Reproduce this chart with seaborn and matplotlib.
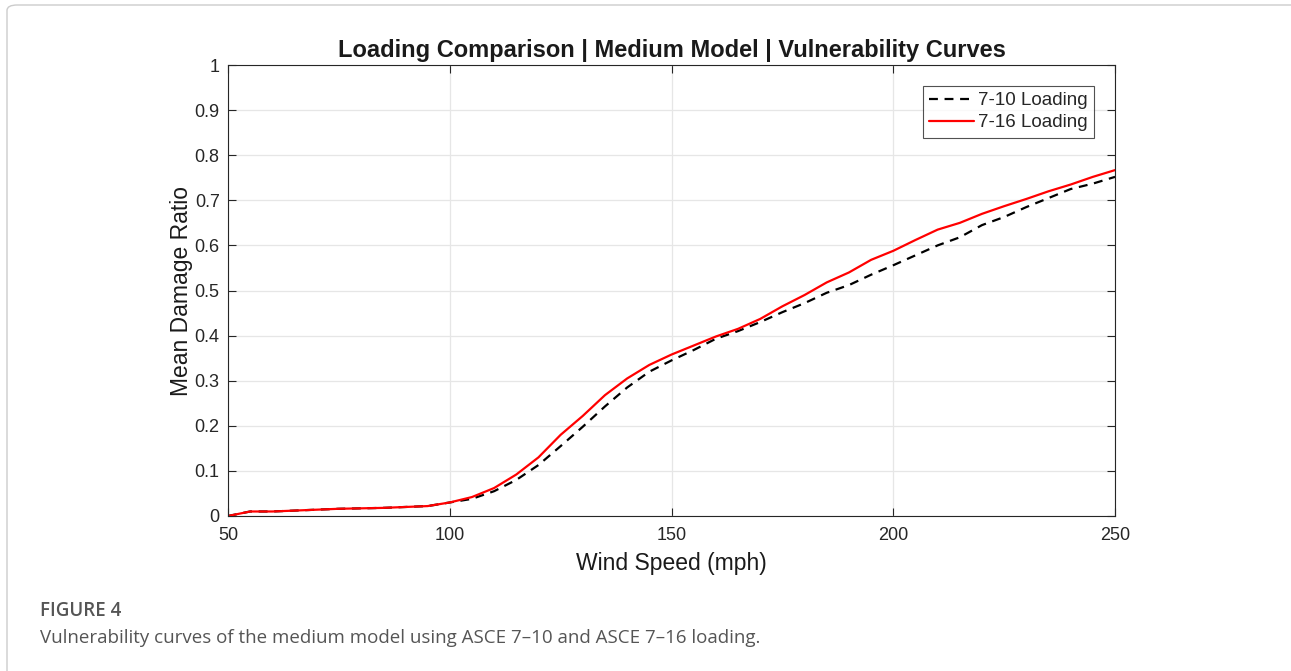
import numpy as np
import pandas as pd
import matplotlib
matplotlib.use("Agg")
import matplotlib.pyplot as plt
import seaborn as sns
from matplotlib.patches import FancyBboxPatch
from matplotlib.lines import Line2D

wind_speed = [50, 55, 60, 65, 70, 75, 80, 85, 90, 95, 100, 105, 110, 115, 120, 125, 130,
              135, 140, 145, 150, 155, 160, 165, 170, 175, 180, 185, 190, 195, 200, 205,
              210, 215, 220, 225, 230, 235, 240, 245, 250]
loading_7_10 = [0.0, 0.010, 0.010, 0.012, 0.014, 0.016, 0.017, 0.018, 0.020, 0.022, 0.030,
                0.038, 0.055, 0.080, 0.113, 0.155, 0.198, 0.243, 0.285, 0.320, 0.345, 0.368,
                0.393, 0.410, 0.430, 0.452, 0.472, 0.495, 0.512, 0.535, 0.556, 0.578, 0.600,
                0.618, 0.645, 0.663, 0.685, 0.705, 0.725, 0.737, 0.752]
loading_7_16 = [0.0, 0.010, 0.010, 0.012, 0.014, 0.016, 0.017, 0.018, 0.020, 0.022, 0.030,
                0.042, 0.062, 0.092, 0.130, 0.180, 0.222, 0.268, 0.305, 0.335, 0.358, 0.378,
                0.398, 0.415, 0.437, 0.465, 0.490, 0.518, 0.540, 0.568, 0.588, 0.612, 0.635,
                0.650, 0.670, 0.687, 0.703, 0.720, 0.735, 0.752, 0.767]
series_names = ["7-10 Loading", "7-16 Loading"]
x_ticks = [50, 100, 150, 200, 250]
y_ticks = [0, 0.1, 0.2, 0.3, 0.4, 0.5, 0.6, 0.7, 0.8, 0.9, 1]
y_tick_labels = ["0", "0.1", "0.2", "0.3", "0.4", "0.5", "0.6", "0.7", "0.8", "0.9", "1"]

df = pd.DataFrame({
    "Wind Speed": wind_speed * 2,
    "MDR": loading_7_10 + loading_7_16,
    "Series": [series_names[0]] * len(wind_speed) + [series_names[1]] * len(wind_speed),
})

sns.set_style("white")
plt.rcParams["font.family"] = ["Liberation Sans", "DejaVu Sans"]

fig = plt.figure(figsize=(12.91, 6.71), dpi=100)
ax = fig.add_axes([0.1766, 0.2310, 0.6871, 0.6721])

sns.lineplot(data=df, x="Wind Speed", y="MDR", hue="Series", style="Series",
             palette={series_names[0]: "black", series_names[1]: "#ff0000"},
             dashes={series_names[0]: (4, 3), series_names[1]: ""},
             linewidth=1.6, ax=ax, legend=False)

ax.set_xlim(50, 250)
ax.set_ylim(0, 1)
ax.set_xticks(x_ticks)
ax.set_yticks(y_ticks)
ax.set_yticklabels(y_tick_labels)
ax.grid(True, color="#e6e6e6", linewidth=0.9)
ax.set_axisbelow(True)
for s in ax.spines.values():
    s.set_color("#262626")
    s.set_linewidth(0.8)
ax.tick_params(direction="in", length=6, width=0.8, colors="#262626",
               labelsize=13, top=True, right=True, bottom=True, left=True,
               labelcolor="#262626")
ax.tick_params(axis="x", pad=8)
ax.tick_params(axis="y", pad=6)

ax.set_xlabel("Wind Speed (mph)", fontsize=16.5, color="#1a1a1a", labelpad=6)
ax.set_ylabel("Mean Damage Ratio", fontsize=16.5, color="#1a1a1a", labelpad=1)
ax.set_title("Loading Comparison | Medium Model | Vulnerability Curves",
             fontsize=17, fontweight="bold", color="#1a1a1a", pad=6)

handles = [Line2D([0], [0], color="black", linestyle=(0, (4, 3)), linewidth=1.6),
           Line2D([0], [0], color="#ff0000", linewidth=1.6)]
leg = ax.legend(handles, series_names, loc="upper right", bbox_to_anchor=(0.987, 0.975),
                fontsize=13.5, frameon=True, fancybox=False, handlelength=2.4,
                handletextpad=0.2, borderpad=0.35, labelspacing=0.25)
leg.get_frame().set_edgecolor("#262626")
leg.get_frame().set_linewidth(0.8)

# outer border of the figure panel
border = FancyBboxPatch((7 / 1291, -0.05), 1.1, 1.05 - 5 / 671,
                        boxstyle="round,pad=0,rounding_size=0.008",
                        transform=fig.transFigure, fill=False,
                        edgecolor="#cccccc", linewidth=1.0)
fig.patches.append(border)

fig.text(40 / 1291, 1 - 611 / 671, "FIGURE 4", fontsize=13.5, color="#555555",
         fontweight="semibold", family=["Open Sans", "DejaVu Sans"],
         va="center", ha="left")
fig.text(40 / 1291, 1 - 638 / 671,
         "Vulnerability curves of the medium model using ASCE 7\u201310 and ASCE 7\u201316 loading.",
         fontsize=13.5, color="#555555", family=["Open Sans", "DejaVu Sans"],
         va="center", ha="left")

fig.savefig("out.png", dpi=100)
